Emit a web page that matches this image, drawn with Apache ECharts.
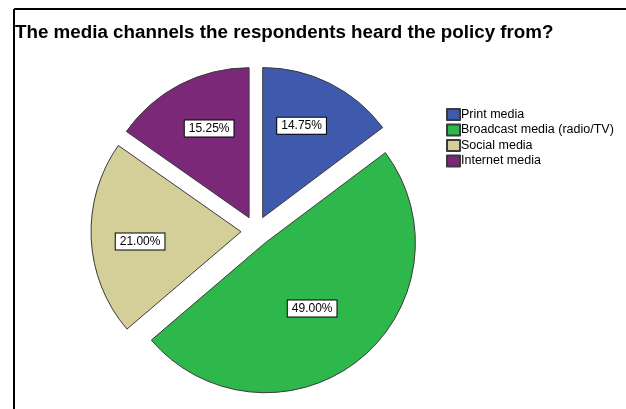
<!DOCTYPE html>
<html>
<head>
<meta charset="utf-8">
<style>html,body{margin:0;padding:0;background:#fff;}#chart{width:626px;height:409px;}</style>
<script src="https://cdn.jsdelivr.net/npm/echarts@6/dist/echarts.min.js"></script>
</head>
<body>
<div id="chart"></div>
<script>
const titleText = 'The media channels the respondents heard the policy from?';
const categories = ['Print media', 'Broadcast media (radio/TV)', 'Social media', 'Internet media'];
const values = [14.75, 49.00, 21.00, 15.25];
const colors = ['#3F59AD', '#2EB84B', '#D4CF98', '#7C2879'];
// label nudges (style, not data)
const labelNudge = [[4, -22], [-2, 5], [-23, 6], [-4, -20]];

const chart = echarts.init(document.getElementById('chart'), null, {renderer: 'canvas'});
const font = 'Arial, "Liberation Sans", sans-serif';
const seriesData = categories.map((c, i) => ({
  name: c,
  value: values[i],
  selected: true,
  itemStyle: { color: colors[i] },
  select: { itemStyle: { color: colors[i], borderColor: '#3a3a3a', borderWidth: 1 } }
}));

chart.setOption({
  animation: false,
  backgroundColor: '#fff',
  title: {
    text: titleText,
    left: 15, top: 23, padding: 0,
    textStyle: { fontFamily: font, fontWeight: 'bold', fontSize: 18.8, color: '#000' }
  },
  legend: {
    orient: 'vertical',
    left: 446, top: 108, padding: 0,
    icon: 'rect',
    itemWidth: 13, itemHeight: 11, itemGap: 2.5,
    textStyle: { fontFamily: font, fontSize: 12.5, lineHeight: 13, color: '#000', padding: [0, 0, 0, -4] },
    data: categories
  },
  graphic: [
    { type: 'line', shape: { x1: 14, y1: 9, x2: 626, y2: 9 }, style: { stroke: '#000', lineWidth: 2 } },
    { type: 'line', shape: { x1: 14, y1: 9, x2: 14, y2: 409 }, style: { stroke: '#000', lineWidth: 2 } }
  ],
  series: [{
    type: 'pie',
    center: [256, 231],
    radius: [0, 150],
    startAngle: 90,
    clockwise: true,
    selectedMode: 'multiple',
    selectedOffset: 15,
    avoidLabelOverlap: false,
    emphasis: { disabled: true },
    itemStyle: { borderColor: '#3a3a3a', borderWidth: 1 },
    label: {
      show: true,
      position: 'inside',
      formatter: p => p.value.toFixed(2) + '%',
      fontFamily: font, fontSize: 12, color: '#000',
      backgroundColor: '#fff', borderColor: '#000', borderWidth: 1,
      padding: [1, 4], lineHeight: 14
    },
    labelLayout: p => ({ dx: labelNudge[p.dataIndex][0], dy: labelNudge[p.dataIndex][1] }),
    labelLine: { show: false },
    data: seriesData
  }]
});
</script>
</body>
</html>
